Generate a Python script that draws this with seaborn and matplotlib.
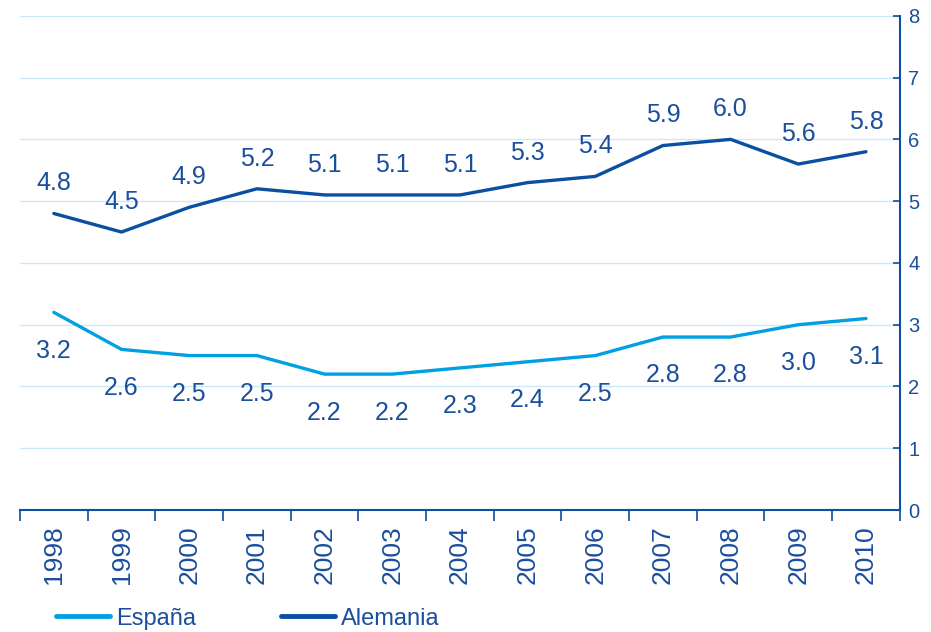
import matplotlib
matplotlib.use("Agg")
import matplotlib.pyplot as plt
import seaborn as sns
import pandas as pd
import numpy as np
from matplotlib.lines import Line2D

years = ["1998", "1999", "2000", "2001", "2002", "2003", "2004",
         "2005", "2006", "2007", "2008", "2009", "2010"]
espana = [3.2, 2.6, 2.5, 2.5, 2.2, 2.2, 2.3, 2.4, 2.5, 2.8, 2.8, 3.0, 3.1]
alemania = [4.8, 4.5, 4.9, 5.2, 5.1, 5.1, 5.1, 5.3, 5.4, 5.9, 6.0, 5.6, 5.8]
series_names = ["España", "Alemania"]
y_ticks = [0, 1, 2, 3, 4, 5, 6, 7, 8]

c_esp = "#00A0E2"
c_ale = "#0B4EA2"
c_txt = "#1A4E9E"
c_grid = "#C9EAF7"

sns.set_theme(style="white")
plt.rcParams["font.family"] = ["Liberation Sans", "DejaVu Sans"]

df = pd.DataFrame({
    "pos": list(range(len(years))) * 2,
    "valor": espana + alemania,
    "serie": [series_names[0]] * len(years) + [series_names[1]] * len(years),
})

fig = plt.figure(figsize=(9.31, 6.32), dpi=100)
ax = fig.add_axes([0.0215, 0.193, 0.945, 0.782])

for v in y_ticks[1:]:
    ax.axhline(v, color=c_grid, lw=1.0, zorder=0)

sns.lineplot(data=df, x="pos", y="valor", hue="serie",
             palette={series_names[0]: c_esp, series_names[1]: c_ale},
             linewidth=2.4, ax=ax, legend=False, zorder=3)

for i, v in enumerate(alemania):
    ax.annotate(f"{v:.1f}", (i, v), xytext=(0, 13), textcoords="offset points",
                ha="center", va="bottom", fontsize=18, color=c_txt)
for i, v in enumerate(espana):
    ax.annotate(f"{v:.1f}", (i, v), xytext=(0, -19), textcoords="offset points",
                ha="center", va="top", fontsize=18, color=c_txt)

ax.set_xlim(-0.5, len(years) - 0.5)
ax.set_ylim(0, 8)

ax.yaxis.tick_right()
ax.set_yticks(y_ticks)
ax.set_yticklabels([str(t) for t in y_ticks], fontsize=14.5, color=c_txt)
ax.tick_params(axis="y", direction="in", length=5, width=1.2, color=c_ale, pad=6,
               right=True, left=False)

ax.set_xticks(range(len(years)))
ax.set_xticklabels(years, rotation=90, fontsize=19, color=c_txt, va="top")
ax.set_xticks(np.arange(-0.5, len(years), 1.0), minor=True)
ax.tick_params(axis="x", which="major", length=0, pad=11)
ax.tick_params(axis="x", which="minor", length=8, width=1.2, color=c_ale, direction="out",
               bottom=True)

for s in ["top", "left"]:
    ax.spines[s].set_visible(False)
for s in ["bottom", "right"]:
    ax.spines[s].set_visible(True)
    ax.spines[s].set_color(c_ale)
    ax.spines[s].set_linewidth(1.5)

ax.set_xlabel("")
ax.set_ylabel("")

handles = [Line2D([], [], color=c_esp, lw=3.5), Line2D([], [], color=c_ale, lw=3.5)]
leg = fig.legend(handles, series_names, loc="lower left", bbox_to_anchor=(0.037, -0.03),
                 ncol=2, frameon=False, fontsize=17, handlelength=2.3, handletextpad=0.25,
                 columnspacing=3.6)
for t in leg.get_texts():
    t.set_color(c_txt)

fig.savefig("out.png", dpi=100)
